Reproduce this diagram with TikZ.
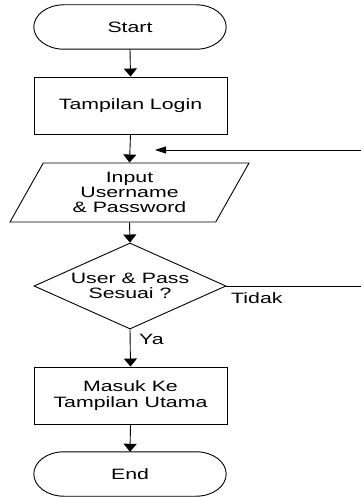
\documentclass[tikz,border=0pt]{standalone}
\usepackage{fontspec}
\setmainfont{Liberation Sans}[FakeStretch=1.42]
\usetikzlibrary{shapes.geometric,arrows.meta,calc}
\begin{document}
\begin{tikzpicture}[x=1pt,y=-1pt,
  every node/.style={font=\fontsize{15}{15.3}\selectfont, align=center, inner sep=0pt},
  line/.style={draw=black, line width=0.9pt},
  termbox/.style={minimum width=192pt, minimum height=44pt},
  procbox/.style={line, rectangle, minimum width=193pt, minimum height=57pt},
  iobox/.style={line, trapezium, trapezium left angle=51, trapezium right angle=129,
     trapezium stretches body=true, minimum width=239pt, minimum height=59pt},
  decbox/.style={line, diamond, aspect=2.23, minimum width=192pt, minimum height=86pt},
  arr/.style={line, -{Triangle[length=8pt,width=13pt]}},
  harr/.style={line, -{Triangle[length=11pt,width=7pt]}},
  lbl/.style={anchor=west}
]
\useasboundingbox (0,0) rectangle (361,497);
\fill[white] (0,0) rectangle (361,497);

\node[termbox] (start) at (130,27) {Start};
\node[procbox] (login) at (130.5,105.5) {Tampilan Login};
\node[iobox] (input) at (129.5,192.5) {Input\\Username\\\& Password};
\node[decbox] (dec) at (130,286) {User \& Pass\\Sesuai ?};
\node[procbox] (masuk) at (130.5,395.5) {Masuk Ke\\Tampilan Utama};
\node[termbox] (end) at (130,474) {End};

% terminator outlines with elliptic ends
\foreach \n in {start,end}{
  \draw[line]
    ($(\n.north west)+(30,0)$) -- ($(\n.north east)+(-30,0)$)
    .. controls ($(\n.north east)+(-13.4,0)$) and ($(\n.east)+(0,-12.2)$) .. (\n.east)
    .. controls ($(\n.east)+(0,12.2)$) and ($(\n.south east)+(-13.4,0)$) .. ($(\n.south east)+(-30,0)$)
    -- ($(\n.south west)+(30,0)$)
    .. controls ($(\n.south west)+(13.4,0)$) and ($(\n.west)+(0,12.2)$) .. (\n.west)
    .. controls ($(\n.west)+(0,-12.2)$) and ($(\n.north west)+(13.4,0)$) .. cycle;
}

\draw[arr] (start.south) -- (login.north);
\draw[arr] (login.south) -- (input.north);
\draw[arr] (input.south) -- (dec.north);
\draw[arr] (dec.south) -- (masuk.north);
\draw[arr] (masuk.south) -- (end.north);

\coordinate (r1) at (361,286);
\coordinate (r2) at (361,150);
\coordinate (fb) at (155,150);
\draw[line] (dec.east) -- (r1);
\draw[harr] (r2) -- (fb);

\node[lbl] (tidak) at (231,298) {Tidak};
\node[lbl] (ya) at (139,339) {Ya};
\end{tikzpicture}
\end{document}
